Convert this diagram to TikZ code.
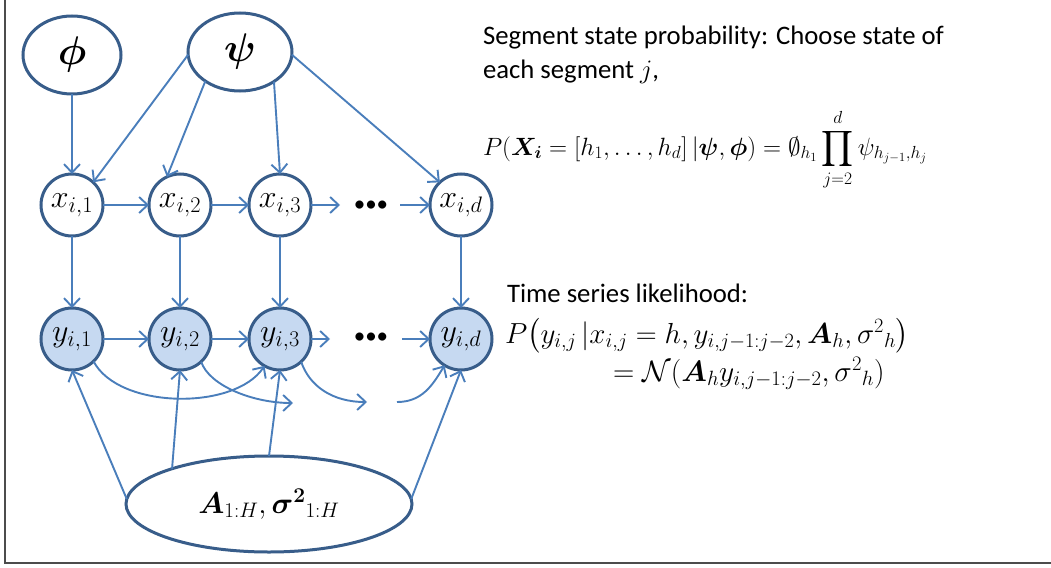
\RequirePackage{fix-cm}
\documentclass[tikz,border=0pt]{standalone}
\usepackage{amsmath,amssymb}
\usepackage[no-math]{fontspec}
\setmainfont{Carlito}
\usetikzlibrary{shapes.geometric,arrows.meta}
\definecolor{arr}{RGB}{74,126,187}
\definecolor{bord}{RGB}{56,93,138}
\definecolor{yfill}{RGB}{198,217,241}
\begin{document}
\begin{tikzpicture}[x=1pt,y=-1pt,
  every node/.style={inner sep=0pt, outer sep=0pt},
  hid/.style={draw=bord, line width=3pt, fill=white},
  latent/.style={hid, circle, minimum size=62pt, font=\fontsize{32}{34}\selectfont},
  obs/.style={latent, fill=yfill},
  par/.style={hid, ellipse},
  conn/.style={draw=arr, line width=1.9pt, -{Straight Barb[length=8.5pt,width=16pt]}},
  txt/.style={anchor=base west, font=\fontsize{26.7}{32}\selectfont},
  eq/.style={anchor=base west},
  dotsn/.style={font=\fontsize{23}{23}\selectfont}
]
\useasboundingbox (0,0) rectangle (1051,567);
% frame
\draw[line width=2pt, black!70] (5,0) -- (5,563) -- (1051,563);

% parameter nodes
\node[par, minimum width=98pt, minimum height=78pt, font=\fontsize{40}{42}\selectfont] (phi) at (72,55) {$\boldsymbol{\phi}$};
\node[par, minimum width=104pt, minimum height=78pt, font=\fontsize{40}{42}\selectfont] (psi) at (240,52) {$\boldsymbol{\psi}$};

% hidden states
\node[latent] (x1) at (72,205) {$x_{i,1}$};
\node[latent] (x2) at (180,205) {$x_{i,2}$};
\node[latent] (x3) at (280,205) {$x_{i,3}$};
\node[latent] (xd) at (461,205) {$x_{i,d}$};
\node[dotsn] (dx) at (371,206) {\textbullet\textbullet\textbullet};

% observations
\node[obs] (y1) at (72,339) {$y_{i,1}$};
\node[obs] (y2) at (180,339) {$y_{i,2}$};
\node[obs] (y3) at (280,339) {$y_{i,3}$};
\node[obs] (yd) at (461,339) {$y_{i,d}$};
\node[dotsn] (dy) at (371,338) {\textbullet\textbullet\textbullet};

% AR parameters
\node[par, minimum width=286pt, minimum height=96pt, font=\fontsize{30}{32}\selectfont] (AS) at (269,504) {$\boldsymbol{A}_{1:H},{\boldsymbol{\sigma}^{\mathbf{2}}}_{1:H}$};

% free ends
\coordinate (xe) at (340,205);
\coordinate (xs) at (400,205);
\coordinate (ye) at (330,339);
\coordinate (ys) at (402,339);
\coordinate (c2) at (293,403);
\coordinate (c3) at (367,402);
\coordinate (c4) at (397,402);

% connectors: top
\draw[conn] (phi) -- (x1);
\draw[conn] (psi.183) -- (x1.47);
\draw[conn] (psi.220) -- (x2.115);
\draw[conn] (psi.319) -- (x3.90);
\draw[conn] (psi.357) -- (xd.133);
% hidden chain
\draw[conn] (x1) -- (x2);
\draw[conn] (x2) -- (x3);
\draw[conn] (x3) -- (xe);
\draw[conn] (xs) -- (xd);
% emissions
\draw[conn] (x1) -- (y1);
\draw[conn] (x2) -- (y2);
\draw[conn] (x3) -- (y3);
\draw[conn] (xd) -- (yd);
% observation chain
\draw[conn] (y1) -- (y2);
\draw[conn] (y2) -- (y3);
\draw[conn] (y3) -- (ye);
\draw[conn] (ys) -- (yd);
% lag-2 curves
\draw[conn] (y1.314) .. controls +(25,48) and +(-30,45) .. (y3.240);
\draw[conn] (y2.313) .. controls +(8,24) and +(-40,0) .. (c2);
\draw[conn] (y3.313) .. controls +(8,24) and +(-35,0) .. (c3);
\draw[conn] (c4) .. controls +(25,0) and +(-12,20) .. (yd.238);
% from AR parameters
\draw[conn] (AS.178) -- (y1.270);
\draw[conn] (AS.160) -- (y2.270);
\draw[conn] (AS.90) -- (y3.270);
\draw[conn] (AS.2) -- (yd.270);

% text
\node[txt] (seg1) at (483,45) {Segment state probability: Choose state of};
\node[txt] (seg2) at (483,79) {each segment $j$,};
\node[eq, font=\fontsize{25}{28}\selectfont] (f1) at (483,155) {$\displaystyle P(\boldsymbol{X_i} = [h_1,\ldots,h_d]\,|\boldsymbol{\psi},\boldsymbol{\phi}) = \emptyset_{h_1}\prod_{j=2}^{d}\psi_{h_{j-1},h_j}$};
\node[txt] (ts) at (507,302) {Time series likelihood:};
\node[eq, font=\fontsize{29}{30}\selectfont] (f2) at (505,343) {$P\bigl(y_{i,j}\,|x_{i,j} = h, y_{i,j-1:j-2}, \boldsymbol{A}_h, {\sigma^2}_h\bigr)$};
\node[eq, font=\fontsize{29.5}{30}\selectfont] (f3) at (613,381) {$= \mathcal{N}(\boldsymbol{A}_h y_{i,j-1:j-2}, {\sigma^2}_h)$};
\end{tikzpicture}
\end{document}
